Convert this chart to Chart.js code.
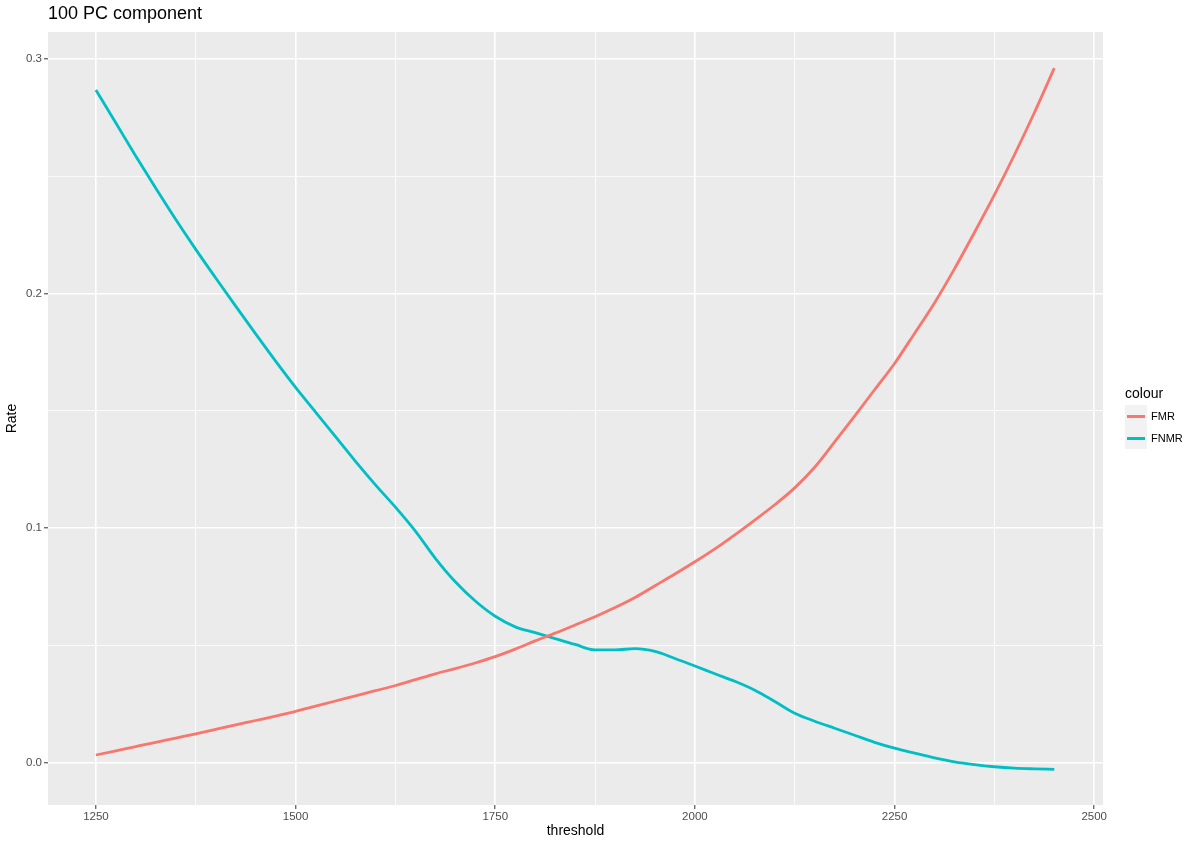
<!DOCTYPE html>
<html>
<head>
<meta charset="utf-8">
<script src="https://cdn.jsdelivr.net/npm/chart.js"></script>
<style>
  html, body { margin: 0; padding: 0; background: #fff; }
  #wrap { position: relative; width: 1189px; height: 843px; font-family: "Liberation Sans", Arial, sans-serif; }
  #title { position: absolute; left: 48px; top: 3px; font-size: 18px; color: #000; }
  #legend { position: absolute; left: 1125px; top: 385px; color: #000; }
  #legend .head { font-size: 14px; margin-bottom: 4px; }
  #legend .row { display: flex; align-items: center; height: 22px; }
  #legend .key { width: 22px; height: 22px; background: #f2f2f2; position: relative; }
  #legend .key span { position: absolute; left: 2px; right: 2px; top: 10px; height: 3px; }
  #legend .lab { font-size: 11px; margin-left: 4px; }
</style>
</head>
<body>
<div id="wrap">
  <canvas id="chart" width="1189" height="843"></canvas>
  <div id="title">100 PC component</div>
  <div id="legend">
    <div class="head">colour</div>
    <div class="row"><div class="key"><span style="background:#F8766D"></span></div><div class="lab">FMR</div></div>
    <div class="row"><div class="key"><span style="background:#00BFC4"></span></div><div class="lab">FNMR</div></div>
  </div>
</div>
<script>
// threshold values (x)
const thresholds = [1250, 1275, 1300, 1325, 1350, 1375, 1400, 1425, 1450, 1475,
  1500, 1525, 1550, 1575, 1600, 1625, 1650, 1675, 1700, 1725,
  1750, 1775, 1800, 1825, 1850, 1875, 1900, 1925, 1950, 1975,
  2000, 2025, 2050, 2075, 2100, 2125, 2150, 2175, 2200, 2225,
  2250, 2275, 2300, 2325, 2350, 2375, 2400, 2425, 2450];

const fmr = [0.0034, 0.0052, 0.0070, 0.0088, 0.0106, 0.0124, 0.0143, 0.0162, 0.0181, 0.0200,
  0.0220, 0.0242, 0.0264, 0.0286, 0.0308, 0.0330, 0.0355, 0.0380, 0.0402, 0.0426,
  0.0453, 0.0485, 0.0520, 0.0553, 0.0588, 0.0623, 0.0662, 0.0705, 0.0755, 0.0805,
  0.0857, 0.0912, 0.0972, 0.1035, 0.1100, 0.1172, 0.1260, 0.1368, 0.1478, 0.1590,
  0.1702, 0.1830, 0.1960, 0.2105, 0.2260, 0.2420, 0.2590, 0.2770, 0.2960];

const fnmr = [0.2867, 0.2726, 0.2585, 0.2448, 0.2315, 0.2188, 0.2066, 0.1946, 0.1828, 0.1712,
  0.1600, 0.1495, 0.1390, 0.1285, 0.1185, 0.1090, 0.0988, 0.0872, 0.0772, 0.0690,
  0.0625, 0.0580, 0.0555, 0.0530, 0.0505, 0.0482, 0.0482, 0.0487, 0.0475, 0.0445,
  0.0413, 0.0380, 0.0348, 0.0310, 0.0262, 0.0212, 0.0178, 0.0148, 0.0118, 0.0088,
  0.0063, 0.0042, 0.0022, 0.0005, -0.0007, -0.0016, -0.0022, -0.0025, -0.0027];

// axis ticks: majors get a label, minors only a thin grid line
const xMajor = [1250, 1500, 1750, 2000, 2250, 2500];
const xMinor = [1375, 1625, 1875, 2125, 2375];
const yMajor = [0, 0.1, 0.2, 0.3];
const yMinor = [0.05, 0.15, 0.25];

const isMajor = (list, v) => list.some(m => Math.abs(m - v) < 1e-9);

const panelBg = {
  id: 'panelBg',
  beforeDraw(chart) {
    const { ctx, chartArea: a } = chart;
    ctx.save();
    ctx.fillStyle = '#EBEBEB';
    ctx.fillRect(a.left, a.top, a.right - a.left, a.bottom - a.top);
    ctx.restore();
  }
};

function gridFor(majors) {
  return {
    drawOnChartArea: true,
    color: '#FFFFFF',
    lineWidth: c => isMajor(majors, c.tick.value) ? 1.6 : 0.8,
    tickColor: c => isMajor(majors, c.tick.value) ? '#333333' : 'rgba(0,0,0,0)',
    tickLength: 4,
    tickWidth: 1
  };
}

const tickFont = { family: '"Liberation Sans", Arial, sans-serif', size: 11.5 };

new Chart(document.getElementById('chart'), {
  type: 'line',
  data: {
    datasets: [
      {
        label: 'FMR',
        data: thresholds.map((t, i) => ({ x: t, y: fmr[i] })),
        borderColor: '#F8766D',
        borderWidth: 2.8,
        pointRadius: 0,
        cubicInterpolationMode: 'monotone',
        fill: false
      },
      {
        label: 'FNMR',
        data: thresholds.map((t, i) => ({ x: t, y: fnmr[i] })),
        borderColor: '#00BFC4',
        borderWidth: 2.8,
        pointRadius: 0,
        cubicInterpolationMode: 'monotone',
        fill: false
      }
    ]
  },
  options: {
    responsive: false,
    animation: false,
    layout: { padding: { top: 32, right: 86, left: 0, bottom: 0 } },
    plugins: {
      legend: { display: false },
      tooltip: { enabled: false }
    },
    scales: {
      x: {
        type: 'linear',
        min: 1190,
        max: 2511,
        border: { display: false },
        grid: gridFor(xMajor),
        afterBuildTicks: s => { s.ticks = xMajor.concat(xMinor).sort((a, b) => a - b).map(v => ({ value: v })); },
        afterFit: s => { s.height = 38; },
        ticks: {
          maxRotation: 0,
          autoSkip: false,
          padding: 1,
          color: '#4D4D4D',
          font: tickFont,
          callback: v => isMajor(xMajor, v) ? String(v) : ''
        },
        title: {
          display: true,
          text: 'threshold',
          color: '#000',
          padding: { top: 0, bottom: 3 },
          font: { family: '"Liberation Sans", Arial, sans-serif', size: 14 }
        }
      },
      y: {
        type: 'linear',
        min: -0.0179,
        max: 0.3114,
        border: { display: false },
        grid: gridFor(yMajor),
        afterBuildTicks: s => { s.ticks = yMajor.concat(yMinor).sort((a, b) => a - b).map(v => ({ value: v })); },
        afterFit: s => { s.width = 48; },
        ticks: {
          autoSkip: false,
          padding: 2,
          color: '#4D4D4D',
          font: tickFont,
          callback: v => isMajor(yMajor, v) ? v.toFixed(1) : ''
        },
        title: {
          display: true,
          text: 'Rate',
          color: '#000',
          padding: { top: 4, bottom: 0 },
          font: { family: '"Liberation Sans", Arial, sans-serif', size: 14 }
        }
      }
    }
  },
  plugins: [panelBg]
});
</script>
</body>
</html>
